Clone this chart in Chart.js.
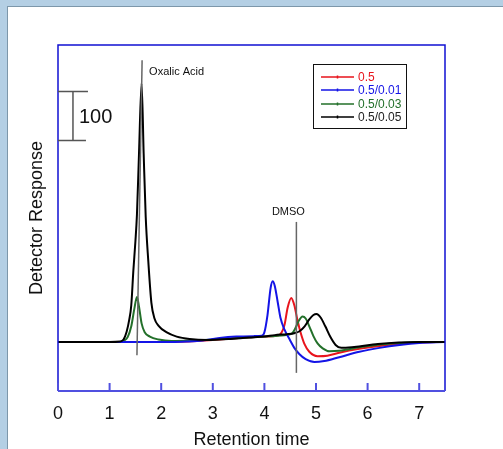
<!DOCTYPE html>
<html>
<head>
<meta charset="utf-8">
<script src="https://cdn.jsdelivr.net/npm/chart.js@4.4.1/dist/chart.umd.min.js"></script>
<style>
    html, body { margin: 0; padding: 0; overflow: hidden; background: #b4cfe4; }
    #panel { position: absolute; left: 7px; top: 6px; width: 600px; height: 600px; background: #fff;
        border-left: 1px solid #7d97aa; border-top: 1px solid #7d97aa; }
    #wrap { position: absolute; left: 0; top: 0; width: 503px; height: 449px; }
</style>
</head>
<body>
<div id="panel"></div>
<div id="wrap"><canvas id="chart" width="503" height="449"></canvas></div>
<script>
// series labels
const seriesNames = ['0.5', '0.5/0.01', '0.5/0.03', '0.5/0.05'];
const seriesColors = ['#e8141c', '#1414e6', '#23702a', '#000000'];
// paint order (higher drawn first)
const seriesOrder = [4, 2, 3, 1];

// retention time (min) / detector response
const redTime = [0, 1.0, 2.0, 2.5, 3.0, 3.5, 4.0, 4.20, 4.31, 4.39, 4.45, 4.52, 4.58, 4.64, 4.70, 4.78, 4.87, 5.03, 5.22, 5.45, 5.84, 6.23, 6.62, 7.0, 7.5];
const redResp = [0, 0, 0, 1, 4, 8, 11, 12, 16, 35, 70, 90, 75, 45, 20, -5, -20, -29, -28, -22, -14, -8, -4, -1, 0];

const blueTime = [0, 1.0, 2.0, 2.2, 2.5, 2.8, 3.13, 3.46, 3.81, 3.95, 4.00, 4.06, 4.12, 4.16, 4.20, 4.26, 4.31, 4.39, 4.49, 4.58, 4.68, 4.80, 4.97, 5.16, 5.45, 5.84, 6.23, 6.62, 7.0, 7.5];
const blueResp = [0, 0, 0, 0, 1, 3, 8, 11, 12, 13, 20, 55, 110, 124, 115, 80, 50, 25, 5, -12, -25, -35, -41, -39, -31, -20, -12, -6, -2, 0];

const greenTime = [0, 1.2, 1.28, 1.35, 1.42, 1.48, 1.53, 1.57, 1.62, 1.68, 1.78, 1.95, 2.2, 2.6, 3.0, 3.5, 4.0, 4.39, 4.53, 4.60, 4.66, 4.74, 4.80, 4.87, 4.95, 5.03, 5.13, 5.26, 5.45, 5.84, 6.23, 6.62, 7.0, 7.5];
const greenResp = [0, 0, 3, 10, 32, 68, 92, 72, 38, 20, 11, 5, 2, 3, 5, 8, 11, 14, 17, 28, 42, 52, 48, 32, 12, -3, -13, -19, -18, -11, -5, -2, 0, 0];

const blackTime = [0, 1.0, 1.2, 1.27, 1.33, 1.38, 1.42, 1.46, 1.50, 1.53, 1.57, 1.62, 1.66, 1.70, 1.75, 1.81, 1.87, 1.95, 2.1, 2.3, 2.55, 2.9, 3.3, 3.7, 4.0, 4.2, 4.43, 4.58, 4.68, 4.78, 4.87, 4.95, 5.01, 5.09, 5.18, 5.28, 5.38, 5.49, 5.74, 6.2, 6.6, 7.0, 7.5];
const blackResp = [0, 0, 1, 5, 21, 45, 75, 145, 205, 260, 385, 528, 385, 255, 165, 80, 48, 33, 20, 11, 6, 4, 6, 9, 11, 14, 16, 18, 22, 32, 46, 55, 57, 50, 32, 10, -6, -12, -10, -4, -1, 0, 0];

// x axis ticks
const xTicks = [0, 1, 2, 3, 4, 5, 6, 7];

// peak markers: [label, time at top, response at top, time at bottom, response at bottom]
const markers = [
    ['Oxalic Acid', 1.63, 575, 1.53, -27],
    ['DMSO', 4.62, 245, 4.62, -63]
];
// scale bar (response units)
const scaleBarFrom = 411, scaleBarTo = 511, scaleBarTime = 0.29;

const FONT = '"Liberation Sans", Arial, sans-serif';

const toPoints = (t, r) => t.map((v, i) => ({ x: v, y: r[i] }));
const allTimes = [redTime, blueTime, greenTime, blackTime];
const allResp = [redResp, blueResp, greenResp, blackResp];

const datasets = seriesNames.map((name, i) => ({
    label: name,
    data: toPoints(allTimes[i], allResp[i]),
    borderColor: seriesColors[i],
    borderWidth: 2,
    pointRadius: 0,
    order: seriesOrder[i],
    cubicInterpolationMode: 'monotone',
    fill: false
}));

const decor = {
    id: 'decor',
    afterDraw(chart) {
        const { ctx, chartArea: { left, top, right, bottom }, scales: { x, y } } = chart;
        ctx.save();

        // frame
        ctx.strokeStyle = '#1010d2';
        ctx.lineWidth = 1.5;
        ctx.beginPath();
        ctx.moveTo(left, bottom);
        ctx.lineTo(left, top);
        ctx.lineTo(right, top);
        ctx.lineTo(right, bottom);
        ctx.stroke();

        // x axis line with inward ticks
        ctx.strokeStyle = '#5050e0';
        ctx.lineWidth = 2;
        ctx.beginPath();
        ctx.moveTo(left, bottom);
        ctx.lineTo(right, bottom);
        xTicks.forEach(v => {
            const px = x.getPixelForValue(v);
            ctx.moveTo(px, bottom);
            ctx.lineTo(px, bottom - 8);
        });
        ctx.stroke();

        // scale bar
        const sx = x.getPixelForValue(scaleBarTime);
        const y1 = y.getPixelForValue(scaleBarTo), y0 = y.getPixelForValue(scaleBarFrom);
        ctx.strokeStyle = '#555';
        ctx.lineWidth = 1.5;
        ctx.beginPath();
        ctx.moveTo(left, y1); ctx.lineTo(sx + 15, y1);
        ctx.moveTo(left, y0); ctx.lineTo(sx + 13, y0);
        ctx.moveTo(sx, y1); ctx.lineTo(sx, y0);
        ctx.stroke();
        ctx.fillStyle = '#111';
        ctx.font = '20px ' + FONT;
        ctx.textBaseline = 'middle';
        ctx.textAlign = 'left';
        ctx.fillText(String(scaleBarTo - scaleBarFrom), sx + 6, (y0 + y1) / 2 + 1);

        // peak markers
        ctx.font = '11px ' + FONT;
        markers.forEach(([label, t1, r1, t0, r0], i) => {
            const xa = x.getPixelForValue(t1), ya = y.getPixelForValue(r1);
            const xb = x.getPixelForValue(t0), yb = y.getPixelForValue(r0);
            ctx.strokeStyle = '#666';
            ctx.lineWidth = 1.5;
            ctx.beginPath();
            ctx.moveTo(xa, ya);
            ctx.lineTo(xb, yb);
            ctx.stroke();
            ctx.fillStyle = '#111';
            if (i === 0) {
                ctx.textAlign = 'left';
                ctx.fillText(label, xa + 7, ya + 12);
            } else {
                ctx.textAlign = 'center';
                ctx.fillText(label, xa - 8, ya - 10);
            }
        });

        // legend box
        const lx = 313, ly = 64, lw = 93, lh = 64;
        ctx.strokeStyle = '#111';
        ctx.lineWidth = 1;
        ctx.strokeRect(lx + 0.5, ly + 0.5, lw, lh);
        const rowsY = [77, 90, 104, 117];
        ctx.font = '12px ' + FONT;
        ctx.textAlign = 'left';
        seriesNames.forEach((name, i) => {
            const ry = rowsY[i];
            ctx.strokeStyle = seriesColors[i];
            ctx.lineWidth = 1.5;
            ctx.beginPath();
            ctx.moveTo(lx + 8, ry);
            ctx.lineTo(lx + 41, ry);
            ctx.moveTo(lx + 24.5, ry - 1.5);
            ctx.lineTo(lx + 24.5, ry + 1.5);
            ctx.stroke();
            ctx.fillStyle = i === 3 ? '#222' : seriesColors[i];
            ctx.fillText(name, lx + 45, ry + 1);
        });

        ctx.restore();
    }
};

new Chart(document.getElementById('chart'), {
    type: 'line',
    data: { datasets },
    options: {
        responsive: false,
        animation: false,
        layout: { padding: { left: 0, right: 58, top: 45, bottom: 0 } },
        scales: {
            x: {
                type: 'linear',
                min: 0,
                max: 7.5,
                grid: { display: false, drawTicks: false },
                border: { display: false },
                afterBuildTicks: scale => {
                    scale.ticks = xTicks.map(v => ({ value: v }));
                },
                afterFit: scale => { scale.height = 58; },
                ticks: {
                    color: '#111',
                    padding: 12,
                    font: { family: FONT, size: 18 }
                },
                title: {
                    display: true,
                    text: 'Retention time',
                    color: '#111',
                    padding: { top: 0, bottom: -2 },
                    font: { family: FONT, size: 18 }
                }
            },
            y: {
                min: -100,
                max: 606,
                grid: { display: false, drawTicks: false },
                border: { display: false },
                ticks: { display: false },
                afterFit: scale => { scale.width = 58; },
                title: {
                    display: true,
                    text: 'Detector Response',
                    color: '#111',
                    padding: { top: 26, bottom: 0 },
                    font: { family: FONT, size: 18 }
                }
            }
        },
        plugins: {
            legend: { display: false },
            tooltip: { enabled: false }
        }
    },
    plugins: [decor]
});
</script>
</body>
</html>
